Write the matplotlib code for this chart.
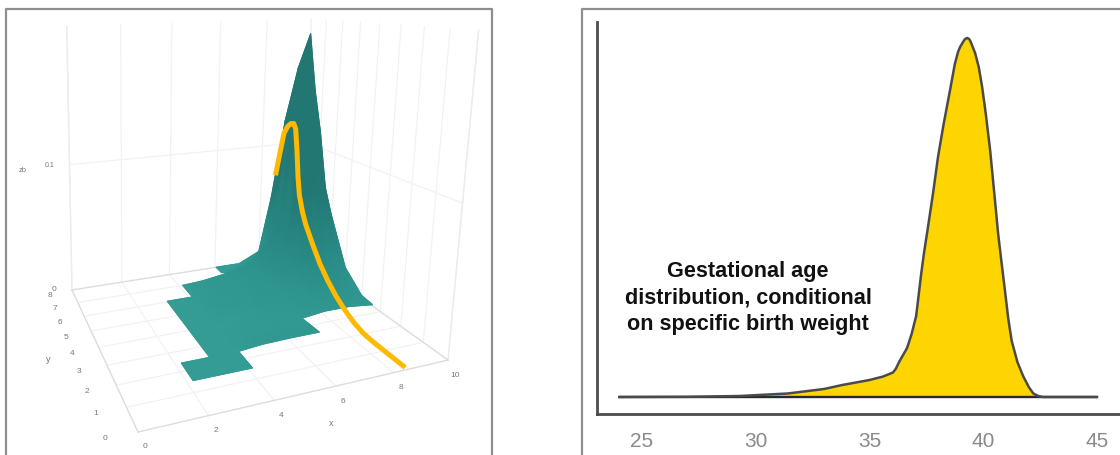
import numpy as np
import matplotlib
matplotlib.use("Agg")
import matplotlib.pyplot as plt
from matplotlib.collections import PolyCollection
from matplotlib.colors import LinearSegmentedColormap

plt.rcParams['font.family'] = ['Liberation Sans', 'DejaVu Sans']

# ---------- left panel data (3-D surface and conditional curve) ----------
nan = np.nan
x_grid = [2.2, 3.15, 4.15, 5, 6.05, 7.1, 8, 8.5, 9, 9.5, 10]
y_grid = [1.5, 2.4, 3.4, 4, 5, 6.05, 6.5, 7, 7.5, 8]
z_grid = [
    [0, 0, 0, nan, nan, nan, nan, nan, nan, nan, nan],
    [0, 0, 0, .0015, .002, .002, nan, nan, nan, nan, nan],
    [nan, 0, 0, .0005, .0008, .001, .003, .003, .003, .002, .001],
    [nan, 0, 0, 0, .001, .002, .006, .012, .010, .006, .002],
    [nan, 0, 0, .001, .002, .005, .014, .030, .028, .020, .0144],
    [nan, 0, 0, .001, .003, .008, .028, .070, .075, .060, .050],
    [nan, nan, 0, .001, .004, .010, .035, .105, .115, .090, .069],
    [nan, nan, 0, .001, .004, .010, .030, .110, .135, .128, .113],
    [nan, nan, nan, nan, 0, .002, .015, .070, .120, .150, .148],
    [nan, nan, nan, nan, 0, 0, .008, .055, .121, .167, .197],
]
curve_x = 8.5
curve_y = [0.1, 1, 1.5, 2, 2.5, 3, 3.5, 4, 4.5, 5, 5.5, 5.75, 6, 6.15, 6.3, 6.45, 6.6, 6.8,
           7, 7.25, 7.5, 7.75]
curve_z = [0, 0, 0, .0005, .0028, .0065, .0115, .018, .0262, .037, .049, .0573, .069, .083, .104,
           .121, .125, .124, .121, .114, .095, .075]
x_ticks = [0, 2, 4, 6, 8, 10]
y_ticks = [0, 1, 2, 3, 4, 5, 6, 7, 8]
z_ticks = [0, 0.1]

# ---------- right panel data (gestational age density) ----------
gest_age = [24, 27, 29.3, 31.4, 33, 33.8, 35, 35.6, 36.03, 36.15, 36.3, 36.45, 36.65, 36.85,
            37.05, 37.15, 37.27, 37.4, 37.53, 37.8, 38.01, 38.25, 38.54, 38.75, 38.89, 38.98,
            39.11, 39.2, 39.29, 39.38, 39.45, 39.64, 39.8, 39.95, 40.1, 40.3, 40.5, 40.65,
            40.8, 40.96, 41.1, 41.25, 41.5, 41.75, 42.0, 42.2, 42.4, 42.6, 45]
density = [0, .0002, .001, .0035, .008, .012, .017, .0205, .0245, .028, .035, .041, .049, .063,
           .081, .100, .123, .145, .164, .205, .240, .272, .307, .333, .345, .350,
           .355, .358, .359, .358, .355, .344, .330, .310, .285, .247, .200, .164,
           .135, .105, .078, .056, .035, .021, .010, .0035, .0012, 0, 0]
age_ticks = [25, 30, 35, 40, 45]
note = "Gestational age\ndistribution, conditional\non specific birth weight"


def project(x, y, z=0.0):
    """Perspective view of the left panel, returning figure pixels."""
    x, y, z = np.asarray(x, float), np.asarray(y, float), np.asarray(z, float)
    u, v = x / 10, y / 8
    w = 1 + .1782 * u + .4753 * v
    px = (389.8 * u - 31.8 * v + 138) / w
    py = (-7.8 * u - 4.2 * v + 432) / w
    lift = 1850 * z / w
    return px + (px - 138) * .0003 * lift, py - lift


fig = plt.figure(figsize=(11.2, 4.55), dpi=100, facecolor='white')
bg = fig.add_axes([0, 0, 1, 1])
bg.set_xlim(0, 1120)
bg.set_ylim(455, 0)
bg.axis('off')

# panel frames
frame = dict(color='#8e8e8e', lw=1.6, solid_capstyle='butt')
bg.plot([6, 6, 492, 492], [455, 9, 9, 455], **frame)
bg.plot([582, 582, 1120], [455, 9, 9], **frame)


def seg(x, y, z, **kw):
    px, py = project(x, y, z)
    bg.plot(px, py, **kw)


grid = dict(color='#f2f2f2', lw=0.9, zorder=1)
edge = dict(color='#dcdcdc', lw=1.0, zorder=1.5)
wall = dict(color='#ececec', lw=1.0, zorder=1.2)
ztop = .21
zs = np.array([0, ztop])
for t in x_ticks:
    seg([t, t], [0, 8], [0, 0], **(edge if t in (0, 10) else grid))
    seg([t, t], [8, 8], zs, **grid)
for t in y_ticks:
    seg([0, 10], [t, t], [0, 0], **(edge if t in (0, 8) else grid))
    seg([10, 10], [t, t], zs, **grid)
seg([0, 0], [8, 8], zs, **wall)
seg([10, 10], [0, 0], zs, **wall)
seg([0, 10], [8, 8], [.1, .1], **grid)
seg([10, 10], [8, 0], [.1, .1], **grid)

# surface
xg, yg, zg = np.array(x_grid), np.array(y_grid), np.array(z_grid, float)
cmap = LinearSegmentedColormap.from_list('teal', ['#349C95', '#2B908A', '#227773'])
XX, YY = np.meshgrid(xg, yg)
PX, PY = project(XX, YY, np.nan_to_num(zg))
shade = np.minimum(1.0, np.sqrt(np.nan_to_num(zg) / .07))
nx = len(xg)
quads = []
for j in range(len(yg) - 1):
    for i in range(nx - 1):
        ids = [j * nx + i, j * nx + i + 1, (j + 1) * nx + i + 1, (j + 1) * nx + i]
        if np.isnan(zg.ravel()[ids]).any():
            continue
        depth = .1782 * xg[i] / 10 + .4753 * yg[j] / 8
        quads.append((depth, ids))
quads.sort(key=lambda q: -q[0])
fx, fy, fs = PX.ravel(), PY.ravel(), shade.ravel()
polys = [np.column_stack([fx[q[1]], fy[q[1]]]) for q in quads]
cols = [cmap(fs[q[1]].mean()) for q in quads]
bg.add_collection(PolyCollection(polys, facecolors=cols, edgecolors=cols, linewidths=0.6, zorder=3))
tris = []
for _, ids in quads:
    tris += [[ids[0], ids[1], ids[2]], [ids[0], ids[2], ids[3]]]
bg.tripcolor(fx, fy, np.array(tris), fs, shading='gouraud', cmap=cmap, vmin=0, vmax=1, zorder=3.1)

# conditional curve
cx, cy = project(np.full(len(curve_y), curve_x), curve_y, curve_z)
bg.plot(cx, cy, color='#FFB900', lw=3.6, solid_capstyle='butt', solid_joinstyle='round', zorder=4)

# tick labels of the 3-D box
lab = dict(color='#777777', ha='center', va='center', zorder=5)
for t in x_ticks:
    px, py = project(t, 0, 0)
    bg.text(px + 7, py + 15, str(t), fontsize=6, **lab)
for t in y_ticks:
    px, py = project(0, t, 0)
    w = 1 + .4753 * t / 8
    bg.text(px - 33 / w, py + 6, str(t), fontsize=6, **lab)
px, py = project(0, 8, 0)
bg.text(px - 18, py, str(z_ticks[0]), fontsize=6, **lab)
px, py = project(0, 8, z_ticks[1])
bg.text(px - 20, py + 1, str(z_ticks[1]), fontsize=5, **lab)
bg.text(23, 170, 'zb', fontsize=5.5, **lab)
bg.text(331, 423, 'x', fontsize=6.5, **lab)
bg.text(48, 359, 'y', fontsize=6.5, **lab)
bg.set_xlim(0, 1120)
bg.set_ylim(455, 0)

# ---------- right panel ----------
ax = fig.add_axes([597 / 1120, 1 - 414 / 455, (1120 - 597) / 1120, (414 - 22) / 455])
ax.patch.set_alpha(0)
ax.set_xlim(23.02, 46.01)
ax.set_ylim(-.017, .375)
ax.fill_between(gest_age, 0, density, color='#FFD500', lw=0, zorder=2)
ax.plot([gest_age[0], gest_age[-1]], [0, 0], color='#2a2a2a', lw=1.7, zorder=3,
        solid_capstyle='butt')
ax.plot(gest_age, density, color='#4a4a4a', lw=1.8, zorder=4, solid_joinstyle='round')
for s in ('top', 'right'):
    ax.spines[s].set_visible(False)
for s in ('left', 'bottom'):
    ax.spines[s].set_color('#4d4d4d')
    ax.spines[s].set_linewidth(2)
ax.set_yticks([])
ax.set_xticks(age_ticks)
ax.tick_params(axis='x', length=0, pad=13, labelsize=15, labelcolor='#8a8a8a')
ax.text(29.66, .099, note, transform=ax.transData, ha='center', va='center', fontsize=15.6,
        fontweight='bold', color='#111111', linespacing=1.33)

fig.savefig('out.png', dpi=100)
